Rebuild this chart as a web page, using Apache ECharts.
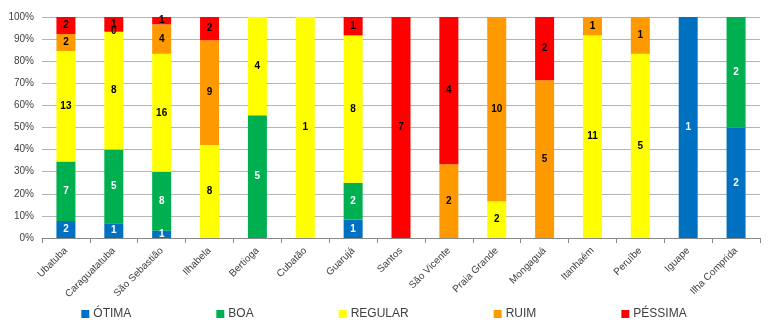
<!DOCTYPE html>
<html>
<head>
<meta charset="utf-8">
<script src="https://cdn.jsdelivr.net/npm/echarts@6/dist/echarts.min.js"></script>
<style>html,body{margin:0;padding:0;background:#fff}#c{width:768px;height:331px}</style>
</head>
<body>
<div id="c"></div>
<script>
const categories = ['Ubatuba','Caraguatatuba','São Sebastião','Ilhabela','Bertioga','Cubatão','Guarujá','Santos','São Vicente','Praia Grande','Mongaguá','Itanhaém','Peruíbe','Iguape','Ilha Comprida'];
const otima   = [2, 1, 1, null, null, null, 1, null, null, null, null, null, null, 1, 2];
const boa     = [7, 5, 8, null, 5, null, 2, null, null, null, null, null, null, null, 2];
const regular = [13, 8, 16, 8, 4, 1, 8, null, null, 2, null, 11, 5, null, null];
const ruim    = [2, 0, 4, 9, null, null, null, null, 2, 10, 5, 1, 1, null, null];
const pessima = [2, 1, 1, 2, null, null, 1, 7, 4, null, 2, null, null, null, null];
const yTicks = ['0%','10%','20%','30%','40%','50%','60%','70%','80%','90%','100%'];

const all = [otima, boa, regular, ruim, pessima];
const totals = categories.map((_, i) => all.reduce((s, a) => s + (a[i] || 0), 0));
const names = ['ÓTIMA','BOA','REGULAR','RUIM','PÉSSIMA'];
const colors = ['#0070C0','#00B050','#FFFF00','#FF9900','#FF0000'];
const labelColors = ['#fff','#fff','#000','#000','#000'];
const FONT = 'Liberation Sans';

const series = all.map((arr, k) => ({
  name: names[k],
  type: 'bar',
  stack: 'total',
  barWidth: 19,
  itemStyle: { color: colors[k] },
  data: arr.map((v, i) => v === null ? '-' : { value: v / totals[i] * 100, count: v }),
  label: {
    show: true,
    position: 'inside',
    color: labelColors[k],
    fontFamily: FONT,
    fontSize: 10,
    fontWeight: 'bold',
    formatter: p => p.data && p.data.count !== undefined ? String(p.data.count) : ''
  },
  emphasis: { disabled: true }
}));

const chart = echarts.init(document.getElementById('c'), null, { renderer: 'canvas' });
chart.setOption({
  animation: false,
  textStyle: { fontFamily: FONT },
  grid: { left: 42, right: 8, top: 17, bottom: 93 },
  legend: {
    bottom: 6,
    left: 'center',
    itemWidth: 8,
    itemHeight: 8,
    itemGap: 85,
    icon: 'rect',
    textStyle: { fontFamily: FONT, fontSize: 12, color: '#404040', padding: [0,0,0,-1] },
    data: names
  },
  xAxis: {
    type: 'category',
    data: categories,
    axisLine: { lineStyle: { color: '#888' } },
    axisTick: { show: true, length: 5, lineStyle: { color: '#888' } },
    axisLabel: { rotate: 45, fontFamily: FONT, fontSize: 10, color: '#404040', interval: 0, margin: 11 }
  },
  yAxis: {
    type: 'value',
    min: 0,
    max: 100,
    interval: 10,
    axisLine: { show: false },
    axisTick: { show: false },
    splitLine: { lineStyle: { color: '#b4b4b4', width: 1 } },
    axisLabel: { fontFamily: FONT, fontSize: 10, color: '#404040', margin: 8,
      formatter: v => yTicks[Math.round(v / 10)] }
  },
  series
});
</script>
</body>
</html>
